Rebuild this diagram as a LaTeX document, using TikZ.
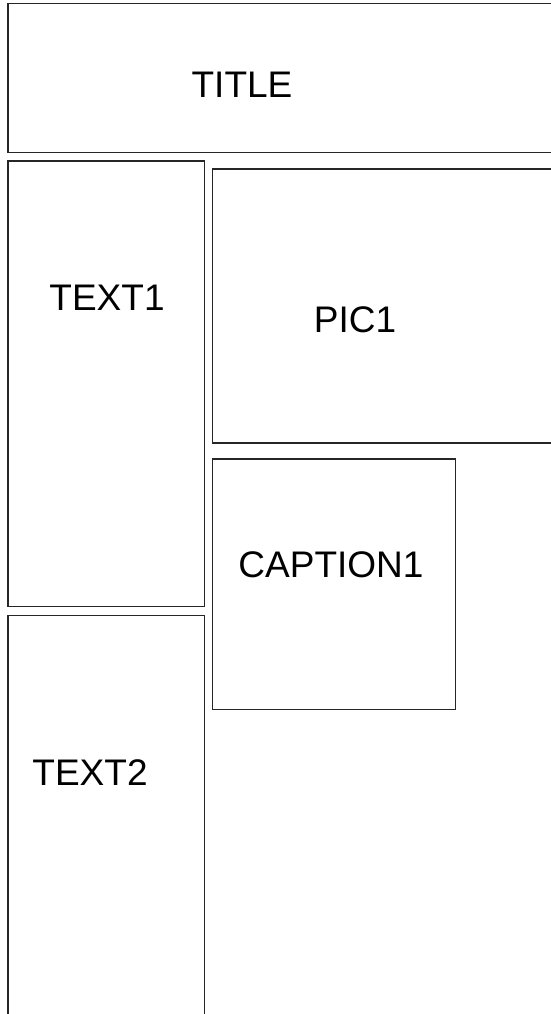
\documentclass[tikz,border=0pt]{standalone}
\usepackage{fontspec}
\setmainfont{Liberation Sans}
\usetikzlibrary{positioning}
\tikzset{
  panel/.style={draw=black!85, line width=1.5pt},
  panelText/.style={inner sep=0pt, font=\fontsize{37}{44}\selectfont},
}
\begin{document}
\begin{tikzpicture}[x=1pt, y=-1pt]
    %% page frame
    \useasboundingbox (0,0) rectangle (551,1014);
    \clip (0,0) rectangle (551,1014);
    %% panels
    \draw[panel] (8,3.5) rectangle (570,152.5);
    \draw[panel] (8,161) rectangle (204.5,606.5);
    \draw[panel] (212.5,169) rectangle (570,443);
    \draw[panel] (212.5,459) rectangle (455.5,709.5);
    \draw[panel] (8,615.5) rectangle (204.5,1030);
    %% labels
    \node[panelText] (title) at (242,85) {TITLE};
    \node[panelText] (text1) at (107,298) {TEXT1};
    \node[panelText] (pic1) at (355,320) {PIC1};
    \node[panelText] (caption1) at (331,565) {CAPTION1};
    \node[panelText] (text2) at (90,773) {TEXT2};
\end{tikzpicture}
\end{document}
